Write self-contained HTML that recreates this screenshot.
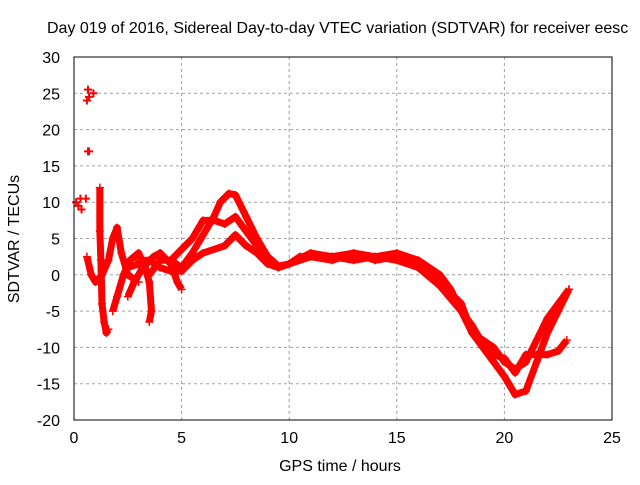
<!DOCTYPE html>
<html><head><meta charset="utf-8"><style>
body{margin:0;background:#fff}
svg text{font-family:"Liberation Sans",sans-serif;font-size:16px;fill:#000}
</style></head><body>
<svg id="chart" width="640" height="480">
<text x="47" y="33">Day 019 of 2016, Sidereal Day-to-day VTEC variation (SDTVAR) for receiver eesc</text>
<text x="340" y="471" text-anchor="middle">GPS time / hours</text>
<text transform="translate(19,239) rotate(-90)" text-anchor="middle">SDTVAR / TECUs</text>
<g id="grid"></g><g id="ticks"></g><g id="marks"></g>
<rect x="74" y="57" width="538" height="363" fill="none" stroke="#000" stroke-width="1"/>
</svg>
<script>
const xTicks=[0,5,10,15,20,25];
const yTicks=[-20,-15,-10,-5,0,5,10,15,20,25,30];
const seriesHigh=[[4.5,2],[5,1],[5.5,3],[6,5.5],[6.5,8],[6.8,10],[7.2,11.2],[7.5,11],[8,8],[8.5,5],[9,2.5],[9.5,1.2],[10,1.5],[10.5,2.5],[12,2.5],[13,3],[14,2.5],[15,3],[16,2],[17,0],[17.5,-2],[18,-5],[18.5,-8],[19,-10],[19.5,-12],[20,-14],[20.5,-16.5],[21,-16],[21.5,-12],[22,-8],[22.5,-5],[23,-2]];
const seriesMid=[[2.5,1],[3,1.5],[3.5,0],[4,2],[4.5,2],[5,3.5],[5.5,5],[6,7.5],[6.5,7.5],[7,7],[7.5,8],[8,6],[8.5,4],[9,2],[9.5,1],[10,1.5],[11,2.5],[12,2],[13,3],[14,2],[15,2.5],[16,1.5],[17,-1],[18,-4],[18.5,-8],[19,-9],[19.5,-10],[20,-12],[20.5,-13],[21,-12],[21.5,-9],[22,-6],[22.5,-4],[23,-2]];
const seriesLow=[[3,2],[3.5,2],[4,1],[4.5,0.5],[5,0.5],[5.5,2],[6,3],[7,4],[7.5,5.5],[8,4],[8.5,3],[9,1.5],[9.5,1],[10,1.5],[11,3],[12,2.5],[13,2],[14,2.5],[15,2],[16,1],[17,-1.5],[18,-5],[18.5,-7],[19,-9.5],[19.5,-11],[20,-11.5],[20.5,-13.5],[21,-11],[21.5,-11],[22,-11],[22.5,-10.5],[22.9,-9]];
const seriesSpike=[[1.2,12],[1.2,6],[1.25,2],[1.3,-4],[1.4,-6.5],[1.5,-8],[1.6,-7.5]];
const seriesEarlyA=[[0.6,2.5],[0.8,0],[1.0,-1],[1.3,0],[1.6,2],[1.8,5],[2,6.5],[2.2,3],[2.5,0],[3,-1]];
const seriesEarlyB=[[1.8,-5],[2,-3],[2.3,0],[2.6,2],[3,3],[3.3,1],[3.5,-1],[3.6,-5],[3.5,-6.5]];
const seriesEarlyC=[[2.5,-3],[2.8,-1],[3.2,1],[3.7,2.5],[4,3],[4.5,1.5],[4.8,-1],[5,-2]];
const scatterPts=[[0.1,10],[0.2,9.5],[0.3,10.5],[0.35,9],[0.55,10.5],[0.6,24],[0.65,25.5],[0.7,24.5],[0.9,25],[0.65,17],[0.7,17]];
const X=v=>74+v*(538/25), Y=v=>420-(v+20)*(363/50);
const ns="http://www.w3.org/2000/svg";
const grid=document.getElementById('grid'),ticks=document.getElementById('ticks'),marks=document.getElementById('marks');
function mk(t,a,p){const e=document.createElementNS(ns,t);for(const k in a)e.setAttribute(k,a[k]);p.appendChild(e);return e;}
xTicks.forEach(v=>{
 if(v>0&&v<25){const l=mk('line',{x1:X(v),x2:X(v),y1:57,y2:420,stroke:'#a0a0a0','stroke-dasharray':'3,3'},grid);
 
 }
 const t=mk('text',{x:X(v),y:443,'text-anchor':'middle'},ticks);t.textContent=v;
 
 
});
yTicks.forEach(v=>{
 if(v>-20&&v<30){const l=mk('line',{x1:74,x2:612,y1:Y(v),y2:Y(v),stroke:'#a0a0a0','stroke-dasharray':'3,3'},grid);
 
 }
 const t=mk('text',{x:60,y:Y(v)+6,'text-anchor':'end'},ticks);t.textContent=v;
 
 
});
function plus(x,y){return `M${x-4},${y}h8M${x},${y-4}v8`;}
[seriesHigh,seriesMid,seriesLow,seriesSpike,seriesEarlyA,seriesEarlyB,seriesEarlyC].forEach((s,i)=>{
 const pl=mk('polyline',{points:s.map(p=>X(p[0])+','+Y(p[1])).join(' '),fill:'none',stroke:'#ff0000','stroke-width':7,'stroke-linejoin':'round'},marks);
 
 
 const m=mk('path',{d:s.map(p=>plus(X(p[0]),Y(p[1]))).join(''),stroke:'#ff0000','stroke-width':1.5,fill:'none'},marks);
 
 
});
const sc=mk('path',{d:scatterPts.map(p=>plus(X(p[0]),Y(p[1]))).join(''),stroke:'#ff0000','stroke-width':2,fill:'none'},marks);


</script>
</body></html>
